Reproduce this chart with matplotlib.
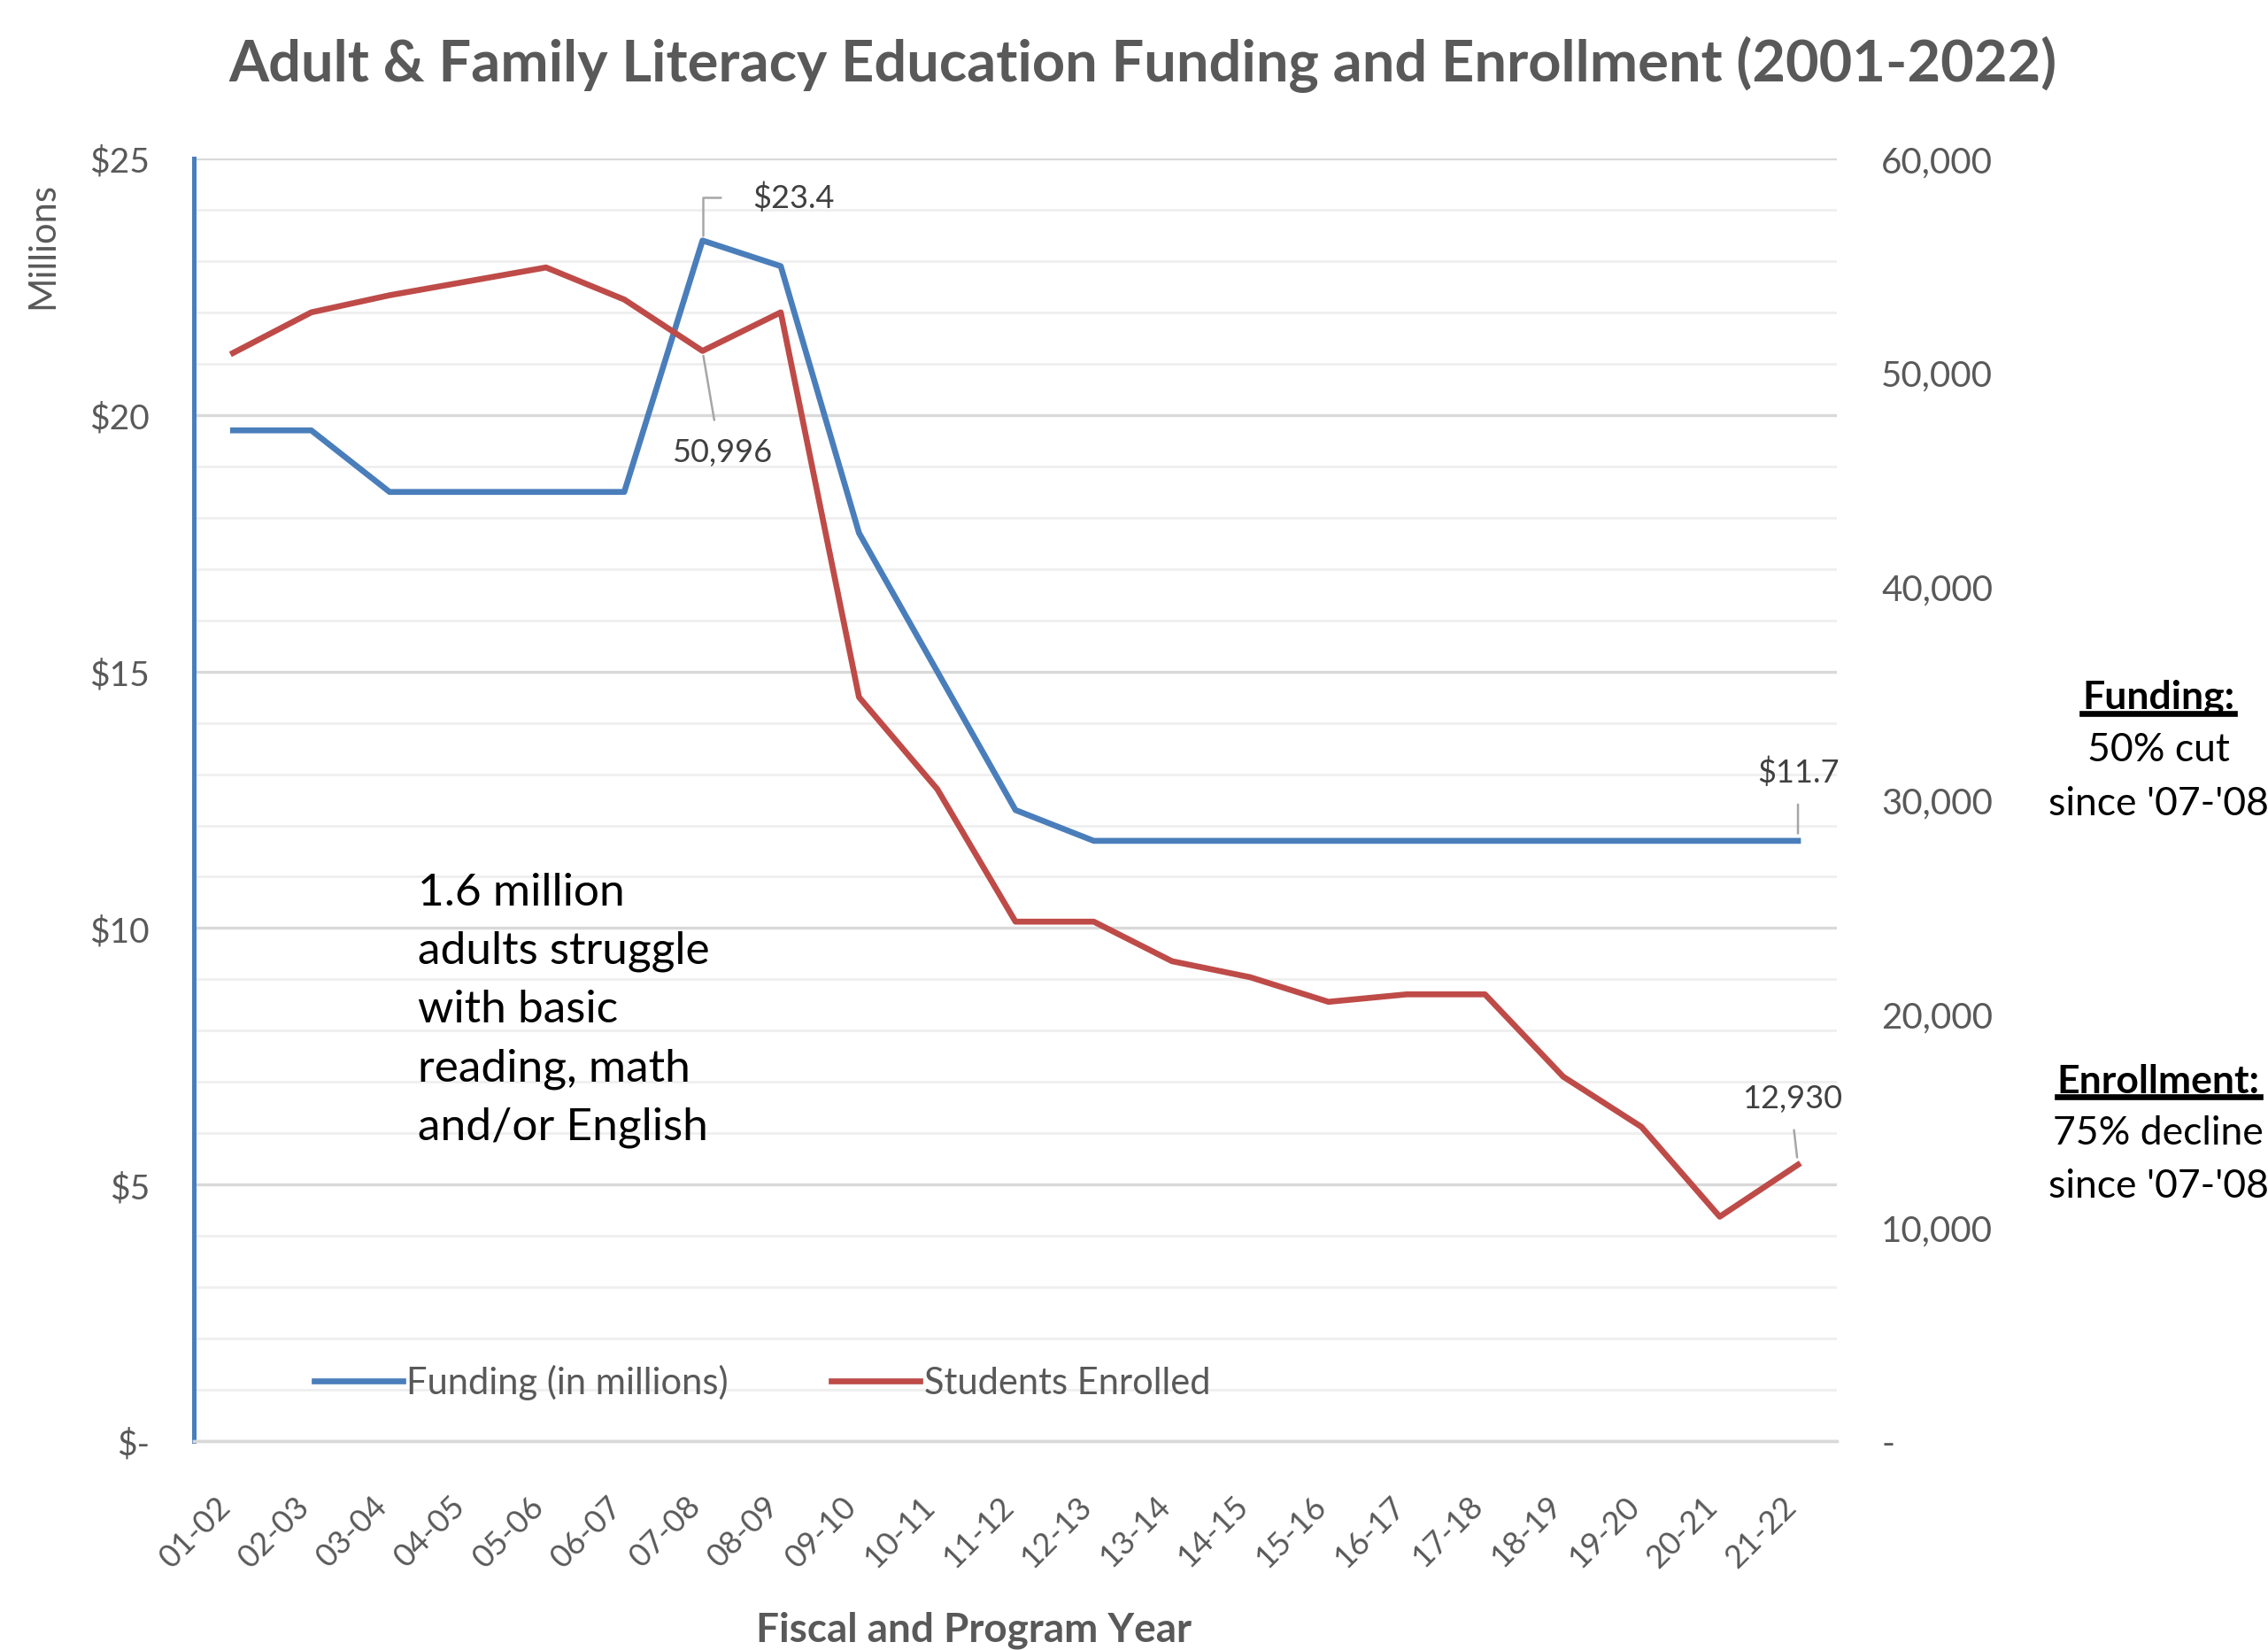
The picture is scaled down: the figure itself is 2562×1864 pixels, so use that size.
import numpy as np
import matplotlib.pyplot as plt
import matplotlib.transforms as mtransforms
from matplotlib.lines import Line2D
from matplotlib.ticker import FuncFormatter, MultipleLocator

plt.rcParams['font.family'] = ['Lato', 'DejaVu Sans']

# Data
years = ["01-02", "02-03", "03-04", "04-05", "05-06", "06-07", "07-08", "08-09",
         "09-10", "10-11", "11-12", "12-13", "13-14", "14-15", "15-16", "16-17",
         "17-18", "18-19", "19-20", "20-21", "21-22"]
funding = [19.7, 19.7, 18.5, 18.5, 18.5, 18.5, 23.4, 22.9, 17.7, 15.0, 12.3,
           11.7, 11.7, 11.7, 11.7, 11.7, 11.7, 11.7, 11.7, 11.7, 11.7]
students = [50900, 52800, 53600, 54250, 54900, 53400, 50996, 52800, 34800, 30500,
            24300, 24300, 22450, 21700, 20550, 20900, 20900, 17050, 14700, 10500,
            12930]

blue = "#4A7EBB"
red = "#BE4B48"
gray = "#595959"

fig = plt.figure(figsize=(12.81, 9.325), dpi=200)
ax1 = fig.add_axes([0.0855, 0.1265, 0.7245, 0.777])
ax2 = ax1.twinx()

x = np.arange(len(years))

ax1.plot(x, funding, color=blue, linewidth=2.4, label="Funding (in millions)", zorder=3)
ax2.plot(x, students, color=red, linewidth=2.4, label="Students Enrolled", zorder=3)

ax1.set_xlim(-0.5, len(years) - 0.5)
ax1.set_ylim(0, 25)
ax2.set_ylim(0, 60000)

# grid
ax1.yaxis.set_major_locator(MultipleLocator(5))
ax1.yaxis.set_minor_locator(MultipleLocator(1))
ax1.grid(which="major", axis="y", color="#D9D9D9", linewidth=1.2)
ax1.grid(which="minor", axis="y", color="#EFEFEF", linewidth=1.0)
ax1.set_axisbelow(True)
ax2.yaxis.set_major_locator(MultipleLocator(10000))

ax1.yaxis.set_major_formatter(FuncFormatter(lambda v, p: "$-" if v == 0 else f"${v:.0f}"))
ax2.yaxis.set_major_formatter(FuncFormatter(lambda v, p: "-" if v == 0 else f"{v:,.0f}"))

for a in (ax1, ax2):
    for s in ("top", "right"):
        a.spines[s].set_visible(False)
    a.spines["bottom"].set_color("#D9D9D9")
    a.spines["bottom"].set_linewidth(1.2)
ax2.spines["left"].set_visible(False)
ax1.spines["left"].set_color(blue)
ax1.spines["left"].set_linewidth(1.8)

ax1.tick_params(axis="y", which="both", length=0, pad=18, labelsize=14, labelcolor=gray)
ax2.tick_params(axis="y", which="both", length=0, pad=18, labelsize=14.5, labelcolor=gray)

ax1.set_xticks(x)
ax1.set_xticklabels(years, rotation=45, ha="right", va="top", rotation_mode="anchor")
ax1.tick_params(axis="x", length=0, pad=20, labelsize=13, labelcolor=gray)
shift = mtransforms.ScaledTranslation(-7 / 72, 0, fig.dpi_scale_trans)
for lab in ax1.get_xticklabels():
    lab.set_transform(lab.get_transform() + shift)

ax1.set_xlabel("Fiscal and Program Year", fontsize=16.5, fontweight="bold", color=gray)
ax1.xaxis.set_label_coords(0.4745, -0.1466)
ax1.xaxis.label.set_va("center")
fig.text(0.019, 0.851, "Millions", rotation=90, ha="center", va="center", fontsize=15, color=gray)

fig.suptitle("Adult & Family Literacy Education Funding and Enrollment (2001-2022)",
             x=0.504, y=0.961, ha="center", va="center", fontsize=23.4, fontweight="bold", color=gray)

# data labels
lead = dict(arrowstyle="-", color="#A6A6A6", linewidth=0.9)
peak = funding.index(max(funding))
ax1.annotate(f"${funding[peak]:.1f}", xy=(peak, funding[peak]), xytext=(37, 17.6),
             textcoords="offset points", ha="center", va="center", fontsize=13, color="#404040",
             arrowprops=dict(lead, connectionstyle="angle,angleA=0,angleB=90,rad=0",
                             relpos=(0, 0.5), shrinkA=11, shrinkB=2))
ax2.annotate(f"{students[peak]:,}", xy=(peak, students[peak]), xytext=(8, -41),
             textcoords="offset points", ha="center", va="center", fontsize=13, color="#404040",
             arrowprops=dict(lead, relpos=(0.45, 1), shrinkA=5, shrinkB=2))
last = len(years) - 1
ax1.annotate(f"${funding[last]:.1f}", xy=(last, funding[last]), xytext=(0, 28),
             textcoords="offset points", ha="center", va="center", fontsize=13, color="#404040",
             arrowprops=dict(lead, relpos=(0.5, 0), shrinkA=5, shrinkB=3))
ax2.annotate(f"{students[last]:,}", xy=(last, students[last]), xytext=(-2.4, 27),
             textcoords="offset points", ha="center", va="center", fontsize=13, color="#404040",
             arrowprops=dict(lead, relpos=(0.5, 0), shrinkA=5, shrinkB=3))

# legend
h1, l1 = ax1.get_legend_handles_labels()
h2, l2 = ax2.get_legend_handles_labels()
ax2.legend(h1 + h2, l1 + l2, loc="center left", bbox_to_anchor=(0.053, 0.046), ncol=2,
           frameon=False, fontsize=15, labelcolor=gray, handlelength=2.4,
           handletextpad=0.1, columnspacing=2.8)

# text notes
fig.text(0.1843, 0.4714, "1.6 million\nadults struggle\nwith basic\nreading, math\nand/or English",
         ha="left", va="top", fontsize=18.5, linespacing=1.54, color="black")

notes = [
    (0.5775, "Funding:", True),
    (0.5455, "50% cut", False),
    (0.5130, "since '07-'08", False),
    (0.3450, "Enrollment:", True),
    (0.3135, "75% decline", False),
    (0.2810, "since '07-'08", False),
]
under = []
for yy, txt, bold in notes:
    t = fig.text(0.9517, yy, txt, ha="center", va="center", fontsize=16,
                 fontweight="bold" if bold else "normal", color="black")
    if bold:
        under.append(t)

fig.canvas.draw()
r = fig.canvas.get_renderer()
for t in under:
    bb = t.get_window_extent(r)
    yline = bb.y0 + 0.04 * bb.height
    fig.add_artist(Line2D([bb.x0, bb.x1], [yline, yline], transform=None,
                          color="black", linewidth=2.4))

fig.savefig("out.png", dpi=200)
